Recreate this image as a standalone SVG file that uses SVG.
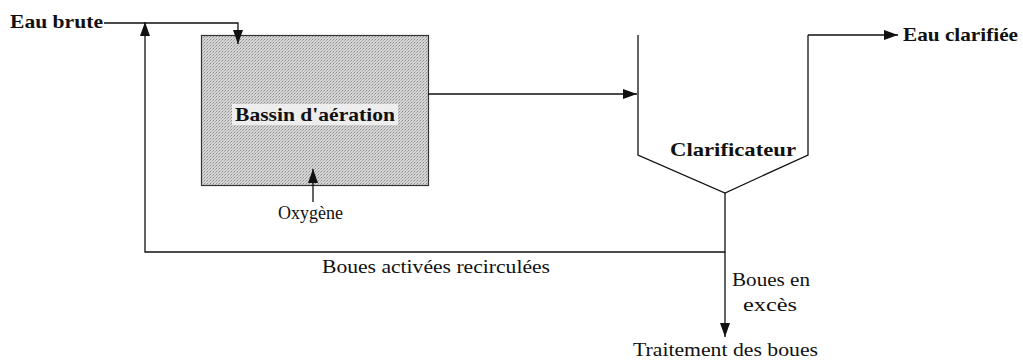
<svg xmlns="http://www.w3.org/2000/svg" width="1023" height="360" viewBox="0 0 1023 360">
<style>
.ln{fill:none;stroke:#111;stroke-width:1.3}
.b{font-family:"Liberation Serif","Times New Roman",Times,serif;font-weight:bold;font-size:19px;fill:#111}
.r{font-family:"Liberation Serif","Times New Roman",Times,serif;font-size:18.5px;fill:#111}
</style>
<defs>
<marker id="ah" viewBox="0 0 14 10" refX="14" refY="5" markerWidth="15" markerHeight="10" markerUnits="userSpaceOnUse" orient="auto">
<path d="M0,0 L14,5 L0,10 Z" fill="#111"/>
</marker>
<pattern id="stip" width="3" height="3" patternUnits="userSpaceOnUse">
<rect width="3" height="3" fill="#d6d6d6"/>
<rect width="1" height="1" fill="#8a8a8a"/>
<rect x="2" y="1" width="1" height="1" fill="#a8a8a8"/>
<rect x="1" y="2" width="1" height="1" fill="#b8b8b8"/>
</pattern>
</defs>
<g id="bassin">
<rect x="201.5" y="35.5" width="227" height="150" fill="url(#stip)" stroke="#333" stroke-width="1.2"/>
<rect x="232" y="104" width="166" height="21" fill="#f4f4f4" opacity="0.85"/>
<text class="b" x="315" y="121" text-anchor="middle" textLength="160" lengthAdjust="spacingAndGlyphs">Bassin d'aération</text>
</g>
<g id="clarificateur">
<polyline class="ln" points="638,35 638,155 725,193 808,155 808,35"/>
<text class="b" x="733" y="156" text-anchor="middle" textLength="126" lengthAdjust="spacingAndGlyphs">Clarificateur</text>
</g>
<g id="connectors">
<polyline class="ln" points="104,23 238,23 238,44" marker-end="url(#ah)"/>
<polyline class="ln" points="725,193 725,252 145,252 145,22" marker-end="url(#ah)"/>
<line class="ln" x1="428" y1="94" x2="637" y2="94" marker-end="url(#ah)"/>
<line class="ln" x1="808" y1="35" x2="898" y2="35" marker-end="url(#ah)"/>
<line class="ln" x1="313" y1="202" x2="313" y2="169" stroke-width="2.2" marker-end="url(#ah)"/>
<line class="ln" x1="725" y1="252" x2="725" y2="337" marker-end="url(#ah)"/>
</g>
<g id="labels">
<text class="b" x="10" y="28" textLength="93" lengthAdjust="spacingAndGlyphs">Eau brute</text>
<text class="b" x="903" y="41" textLength="115" lengthAdjust="spacingAndGlyphs">Eau clarifiée</text>
<text class="r" x="278" y="219" textLength="65" lengthAdjust="spacingAndGlyphs">Oxygène</text>
<text class="r" x="322" y="273" textLength="228" lengthAdjust="spacingAndGlyphs">Boues activées recirculées</text>
<text class="r" x="732" y="286" textLength="78" lengthAdjust="spacingAndGlyphs">Boues en</text>
<text class="r" x="743" y="311" textLength="54" lengthAdjust="spacingAndGlyphs">excès</text>
<text class="r" x="633" y="356" textLength="185" lengthAdjust="spacingAndGlyphs">Traitement des boues</text>
</g>
</svg>
